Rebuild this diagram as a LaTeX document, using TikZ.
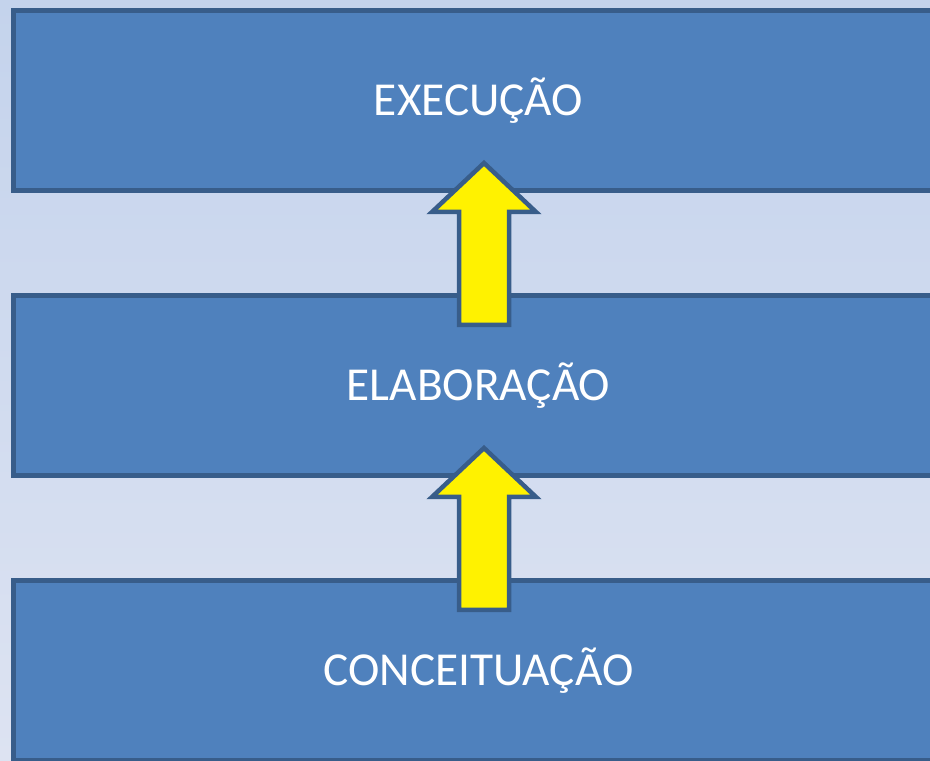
\documentclass[tikz,border=0pt]{standalone}
\usepackage{fontspec}
\setmainfont{Carlito}
\usetikzlibrary{calc}
\definecolor{boxfill}{RGB}{79,129,189}
\definecolor{boxline}{RGB}{56,93,138}
\definecolor{bgtop}{RGB}{196,211,236}
\definecolor{bgbottom}{RGB}{221,227,242}
\tikzset{
  phase/.style={draw=boxline, fill=boxfill, line width=5pt, minimum width=930pt,
    minimum height=180pt, inner sep=0pt, text=white, text height=30.5pt, text depth=0pt,
    font=\fontsize{47.3}{56}\selectfont},
  arrowblock/.style={draw=boxline, fill=yellow, line width=4.5pt, line join=miter}
}
% block arrow from the top of #1 up to the bottom of #2
\newcommand{\stagearrow}[2]{%
  \draw[arrowblock] let \p1=(#1.north), \p2=(#2.south) in
    (\x1+5.5pt-25pt, \y1-32pt) -- (\x1+5.5pt-25pt, \y2-19pt) -- (\x1+5.5pt-52pt, \y2-19pt)
    -- (\x1+5.5pt, \y2+30pt) -- (\x1+5.5pt+52pt, \y2-19pt) -- (\x1+5.5pt+25pt, \y2-19pt)
    -- (\x1+5.5pt+25pt, \y1-32pt) -- cycle;}
\begin{document}
\begin{tikzpicture}[x=1pt, y=1pt]
  \useasboundingbox (0,0) rectangle (930,761);
  \clip (0,0) rectangle (930,761);
  \shade[top color=bgtop, bottom color=bgbottom] (0,0) rectangle (930,761);
  % phases
  \node[phase] (exec) at (478.5,660.5) {EXECUÇÃO};
  \node[phase] (elab) at (478.5,375.5) {ELABORAÇÃO};
  \node[phase] (conc) at (478.5,90.5) {CONCEITUAÇÃO};
  % arrows
  \stagearrow{elab}{exec}
  \stagearrow{conc}{elab}
\end{tikzpicture}
\end{document}
